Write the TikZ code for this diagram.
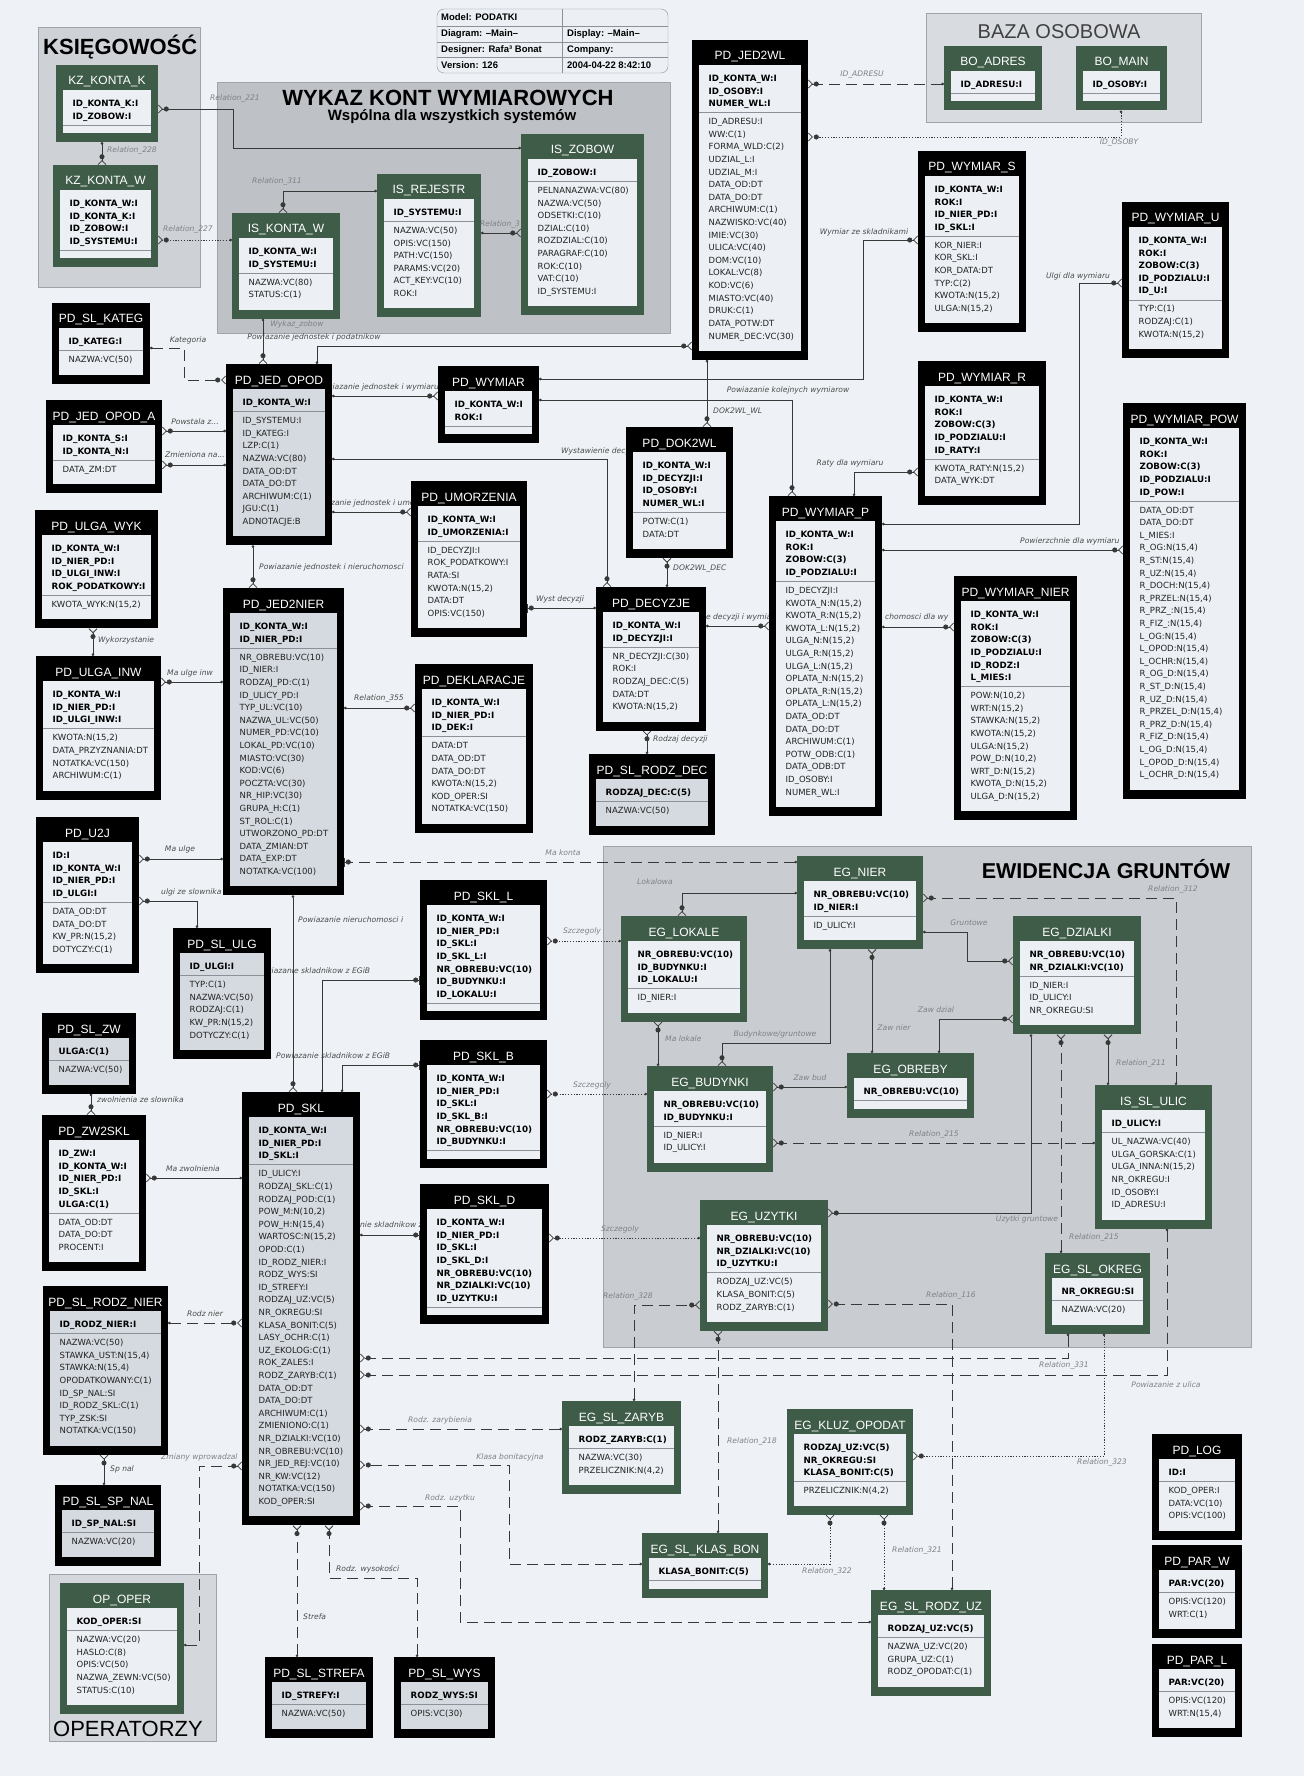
\documentclass[tikz,border=0pt]{standalone}
\usepackage{fontspec}
\setmainfont{Liberation Sans}
\newfontfamily\fieldfont{DejaVu Sans}
\usetikzlibrary{arrows.meta}

\definecolor{pagebg}{HTML}{EEF2F6}
\definecolor{tabin}{HTML}{ECF0F4}
\definecolor{tabhatch}{HTML}{D5DAE0}
\definecolor{egreen}{HTML}{3F5C49}
\definecolor{relcol}{HTML}{383838}
\definecolor{lblcol}{HTML}{4A4A4A}
\definecolor{lblpale}{HTML}{7E8286}
\definecolor{sepcol}{HTML}{8C9197}
\definecolor{attcol}{HTML}{222222}
\definecolor{grpedge}{HTML}{A0A4A8}
\definecolor{grpk}{HTML}{CED2D6}
\definecolor{grpw}{HTML}{BEC2C6}
\definecolor{grpb}{HTML}{D8DCE0}
\definecolor{grpe}{HTML}{C9CDD1}
\definecolor{grpo}{HTML}{D4D8DC}

\pgfdeclarelayer{back}
\pgfdeclarelayer{mid}
\pgfsetlayers{back,mid,main}

\tikzset{
  framecol/.store in=\framecol,
  innercol/.store in=\innercol,
  blk/.style={framecol=black, innercol=tabin},
  blkh/.style={framecol=black, innercol=tabhatch},
  grn/.style={framecol=egreen, innercol=tabin},
  tabframe/.style={draw=none, inner sep=0pt, outer sep=0pt, anchor=north west},
  tabhead/.style={anchor=base, inner sep=0pt, text=white, font=\fontsize{12}{14}\selectfont},
  pkfield/.style={anchor=base west, inner sep=0pt, text=black, font=\fieldfont\bfseries\fontsize{8.7}{10}\selectfont},
  atfield/.style={anchor=base west, inner sep=0pt, text=attcol, font=\fieldfont\fontsize{8.5}{10}\selectfont},
  tabsep/.style={draw=sepcol, line width=0.6pt},
  rel/.style={draw=relcol, line width=0.8pt, {Circle[length=2.6pt]}-{Circle[length=5pt,sep=0.8pt]Straight Barb[reversed,length=4pt,width=8pt]}},
  relbar/.style={rel, {Circle[length=2.6pt]}-{Circle[length=5pt,sep=1pt]Bar[width=9pt]}},
  reldash/.style={dash pattern=on 11pt off 6pt},
  reldot/.style={dash pattern=on 1.2pt off 1.6pt},
  lbl/.style={inner sep=1pt, text=lblcol, font=\fieldfont\itshape\fontsize{7.6}{9}\selectfont},
  lblp/.style={lbl, text=lblpale},
  grp/.style={draw=grpedge, line width=0.6pt, inner sep=0pt, outer sep=0pt, anchor=north west},
  bigtitle/.style={inner sep=0pt, text=black, font=\bfseries\fontsize{22}{24}\selectfont},
  infobox/.style={draw=sepcol, fill=tabin, rounded corners=7pt, inner sep=0pt, outer sep=0pt, anchor=north west},
  infotxt/.style={anchor=west, inner sep=0pt, font=\bfseries\fontsize{9.5}{11}\selectfont},
}

% one table: [colours]{name}{x}{y}{width}{title}{key fields}{other fields}
\newcommand{\ertab}[8][blk]{%
  \tikzset{#1}%
  \xdef\npk{0}%
  \foreach \fld [count=\i] in {#7} {\xdef\npk{\i}}%
  \xdef\nat{0}%
  \if\relax\detokenize{#8}\relax\else\foreach \fld [count=\i] in {#8} {\xdef\nat{\i}}\fi
  \pgfmathsetlengthmacro\tabh{(\nat>0 ? 80.5+12.6*(\npk+\nat-2) : 64.5+12.6*(\npk-1))*1pt}%
  \pgfmathsetlengthmacro\seppos{(38.5+12.6*(\npk-1)+9)*1pt}%
  \node[tabframe, fill=\framecol, minimum width=#5pt, minimum height=\tabh] (#2) at (#3,#4) {};
  \fill[\innercol] ([xshift=7pt,yshift=-25pt]#2.north west) rectangle ([xshift=-7pt,yshift=9pt]#2.south east);
  \node[tabhead] (#2h) at ([yshift=-20pt]#2.north) {#6};
  \foreach \fld [count=\i] in {#7} {\node[pkfield] (#2p\i) at ([xshift=16.5pt,yshift={-41.6pt-12.6pt*(\i-1)}]#2.north west) {\fld};}
  \draw[tabsep] ([xshift=7pt,yshift=-\seppos]#2.north west) -- ([xshift=-7pt,yshift=-\seppos]#2.north east);
  \ifnum\nat>0
    \foreach \fld [count=\i] in {#8} {\node[atfield] (#2a\i) at ([xshift=16.5pt,yshift={-\seppos-12.1pt-12.6pt*(\i-1)}]#2.north west) {\fld};}
  \fi
}

\begin{document}
\catcode`\_=12
\begin{tikzpicture}[x=1pt, y=-1pt]
  \useasboundingbox (0,0) rectangle (1304,1776);

  % the areas
  \begin{pgfonlayer}{back}
  \fill[pagebg] (0,0) rectangle (1304,1776);
  \node[grp, fill=grpk, minimum width=162pt, minimum height=260pt] (gksieg) at (38,27) {};
  \node[bigtitle, anchor=west] (tksieg) at (43,47) {KSIĘGOWOŚĆ};
  \node[grp, fill=grpw, minimum width=453pt, minimum height=251pt] (gwykaz) at (217,82) {};
  \node[bigtitle] (twykaz) at (448,98) {WYKAZ KONT WYMIAROWYCH};
  \node[bigtitle, font=\bfseries\fontsize{15}{17}\selectfont] (twspol) at (452,117) {Wspólna dla wszystkich systemów};
  \node[grp, fill=grpb, minimum width=275pt, minimum height=109pt] (gbaza) at (926,13) {};
  \node[bigtitle, text=black!75, font=\fontsize{20}{22}\selectfont] (tbaza) at (1059,32) {BAZA OSOBOWA};
  \node[grp, fill=grpe, minimum width=648pt, minimum height=501pt] (gewid) at (603,846) {};
  \node[bigtitle, font=\bfseries\fontsize{21.5}{24}\selectfont] (tewid) at (1106,869) {EWIDENCJA GRUNTÓW};
  \node[grp, fill=grpo, minimum width=167pt, minimum height=167pt] (goper) at (49,1574) {};
  \node[bigtitle, anchor=west, font=\fontsize{22}{24}\selectfont] (toper) at (53,1729) {OPERATORZY};
  \end{pgfonlayer}

  % the model header
  \node[infobox, minimum width=231pt, minimum height=64pt] (info) at (437,9) {};
  \draw[sepcol, line width=0.6pt] (info.west |- 0,26) -- (info.east |- 0,26);
  \draw[sepcol, line width=0.6pt] (info.west |- 0,42) -- (info.east |- 0,42);
  \draw[sepcol, line width=0.6pt] (info.west |- 0,57) -- (info.east |- 0,57);
  \draw[sepcol, line width=0.6pt] (info.north -| 562,0) -- (info.south -| 562,0);
  \node[infotxt] (im1) at (441,17) {Model: PODATKI};
  \node[infotxt] (im2) at (441,34) {Diagram: --Main--};
  \node[infotxt] (im3) at (567,34) {Display: --Main--};
  \node[infotxt] (im4) at (441,50) {Designer: Rafa³ Bonat};
  \node[infotxt] (im5) at (567,50) {Company:};
  \node[infotxt] (im6) at (441,65) {Version: 126};
  \node[infotxt] (im7) at (567,65) {2004-04-22  8:42:10};

  % the tables
  \ertab[grn]{kzk}{56}{65}{102}{KZ_KONTA_K}{ID_KONTA_K:I,ID_ZOBOW:I}{}
  \ertab[grn]{kzw}{53}{165}{105}{KZ_KONTA_W}{ID_KONTA_W:I,ID_KONTA_K:I,ID_ZOBOW:I,ID_SYSTEMU:I}{}
  \ertab[grn]{iskontaw}{232}{213}{108}{IS_KONTA_W}{ID_KONTA_W:I,ID_SYSTEMU:I}{NAZWA:VC(80),STATUS:C(1)}
  \ertab[grn]{isrejestr}{377}{174}{104}{IS_REJESTR}{ID_SYSTEMU:I}{NAZWA:VC(50),OPIS:VC(150),PATH:VC(150),PARAMS:VC(20),ACT_KEY:VC(10),ROK:I}
  \ertab[grn]{iszobow}{521}{134}{123}{IS_ZOBOW}{ID_ZOBOW:I}{PELNANAZWA:VC(80),NAZWA:VC(50),ODSETKI:C(10),DZIAL:C(10),ROZDZIAL:C(10),PARAGRAF:C(10),ROK:C(10),VAT:C(10),ID_SYSTEMU:I}
  \ertab[grn]{boadres}{944}{46}{98}{BO_ADRES}{ID_ADRESU:I}{}
  \ertab[grn]{bomain}{1076}{46}{91}{BO_MAIN}{ID_OSOBY:I}{}
  \ertab{jed2wl}{692}{40}{116}{PD_JED2WL}{ID_KONTA_W:I,ID_OSOBY:I,NUMER_WL:I}{ID_ADRESU:I,WW:C(1),FORMA_WLD:C(2),UDZIAL_L:I,UDZIAL_M:I,DATA_OD:DT,DATA_DO:DT,ARCHIWUM:C(1),NAZWISKO:VC(40),IMIE:VC(30),ULICA:VC(40),DOM:VC(10),LOKAL:VC(8),KOD:VC(6),MIASTO:VC(40),DRUK:C(1),DATA_POTW:DT,NUMER_DEC:VC(30)}
  \ertab{wymiars}{918}{151}{108}{PD_WYMIAR_S}{ID_KONTA_W:I,ROK:I,ID_NIER_PD:I,ID_SKL:I}{KOR_NIER:I,KOR_SKL:I,KOR_DATA:DT,TYP:C(2),{KWOTA:N(15,2)},{ULGA:N(15,2)}}
  \ertab{wymiaru}{1122}{202}{107}{PD_WYMIAR_U}{ID_KONTA_W:I,ROK:I,ZOBOW:C(3),ID_PODZIALU:I,ID_U:I}{TYP:C(1),RODZAJ:C(1),{KWOTA:N(15,2)}}
  \ertab{wymiarr}{918}{361}{128}{PD_WYMIAR_R}{ID_KONTA_W:I,ROK:I,ZOBOW:C(3),ID_PODZIALU:I,ID_RATY:I}{{KWOTA_RATY:N(15,2)},DATA_WYK:DT}
  \ertab{wymiarpow}{1123}{403}{123}{PD_WYMIAR_POW}{ID_KONTA_W:I,ROK:I,ZOBOW:C(3),ID_PODZIALU:I,ID_POW:I}{DATA_OD:DT,DATA_DO:DT,L_MIES:I,{R_OG:N(15,4)},{R_ST:N(15,4)},{R_UZ:N(15,4)},{R_DOCH:N(15,4)},{R_PRZEL:N(15,4)},{R_PRZ_:N(15,4)},{R_FIZ_:N(15,4)},{L_OG:N(15,4)},{L_OPOD:N(15,4)},{L_OCHR:N(15,4)},{R_OG_D:N(15,4)},{R_ST_D:N(15,4)},{R_UZ_D:N(15,4)},{R_PRZEL_D:N(15,4)},{R_PRZ_D:N(15,4)},{R_FIZ_D:N(15,4)},{L_OG_D:N(15,4)},{L_OPOD_D:N(15,4)},{L_OCHR_D:N(15,4)}}
  \ertab{wymiarnier}{954}{576}{123}{PD_WYMIAR_NIER}{ID_KONTA_W:I,ROK:I,ZOBOW:C(3),ID_PODZIALU:I,ID_RODZ:I,L_MIES:I}{{POW:N(10,2)},{WRT:N(15,2)},{STAWKA:N(15,2)},{KWOTA:N(15,2)},{ULGA:N(15,2)},{POW_D:N(10,2)},{WRT_D:N(15,2)},{KWOTA_D:N(15,2)},{ULGA_D:N(15,2)}}
  \ertab{wymiarp}{769}{496}{113}{PD_WYMIAR_P}{ID_KONTA_W:I,ROK:I,ZOBOW:C(3),ID_PODZIALU:I}{ID_DECYZJI:I,{KWOTA_N:N(15,2)},{KWOTA_R:N(15,2)},{KWOTA_L:N(15,2)},{ULGA_N:N(15,2)},{ULGA_R:N(15,2)},{ULGA_L:N(15,2)},{OPLATA_N:N(15,2)},{OPLATA_R:N(15,2)},{OPLATA_L:N(15,2)},DATA_OD:DT,DATA_DO:DT,ARCHIWUM:C(1),POTW_ODB:C(1),DATA_ODB:DT,ID_OSOBY:I,NUMER_WL:I}
  \ertab{dok2wl}{626}{427}{107}{PD_DOK2WL}{ID_KONTA_W:I,ID_DECYZJI:I,ID_OSOBY:I,NUMER_WL:I}{POTW:C(1),DATA:DT}
  \ertab{decyzje}{596}{587}{110}{PD_DECYZJE}{ID_KONTA_W:I,ID_DECYZJI:I}{NR_DECYZJI:C(30),ROK:I,RODZAJ_DEC:C(5),DATA:DT,{KWOTA:N(15,2)}}
  \ertab[blkh]{slrodzdec}{589}{754}{126}{PD_SL_RODZ_DEC}{RODZAJ_DEC:C(5)}{NAZWA:VC(50)}
  \ertab{umorzenia}{411}{481}{116}{PD_UMORZENIA}{ID_KONTA_W:I,ID_UMORZENIA:I}{ID_DECYZJI:I,ROK_PODATKOWY:I,RATA:SI,{KWOTA:N(15,2)},DATA:DT,OPIS:VC(150)}
  \ertab{deklaracje}{415}{664}{118}{PD_DEKLARACJE}{ID_KONTA_W:I,ID_NIER_PD:I,ID_DEK:I}{DATA:DT,DATA_OD:DT,DATA_DO:DT,{KWOTA:N(15,2)},KOD_OPER:SI,NOTATKA:VC(150)}
  \ertab{wymiar}{438}{366}{101}{PD_WYMIAR}{ID_KONTA_W:I,ROK:I}{}
  \ertab[blkh]{jedopod}{226}{364}{106}{PD_JED_OPOD}{ID_KONTA_W:I}{ID_SYSTEMU:I,ID_KATEG:I,LZP:C(1),NAZWA:VC(80),DATA_OD:DT,DATA_DO:DT,ARCHIWUM:C(1),JGU:C(1),ADNOTACJE:B}
  \ertab{jedopoda}{46}{400}{116}{PD_JED_OPOD_A}{ID_KONTA_S:I,ID_KONTA_N:I}{DATA_ZM:DT}
  \ertab{slkateg}{52}{303}{98}{PD_SL_KATEG}{ID_KATEG:I}{NAZWA:VC(50)}
  \ertab{ulgawyk}{35}{510}{123}{PD_ULGA_WYK}{ID_KONTA_W:I,ID_NIER_PD:I,ID_ULGI_INW:I,ROK_PODATKOWY:I}{{KWOTA_WYK:N(15,2)}}
  \ertab{ulgainw}{36}{656}{125}{PD_ULGA_INW}{ID_KONTA_W:I,ID_NIER_PD:I,ID_ULGI_INW:I}{{KWOTA:N(15,2)},DATA_PRZYZNANIA:DT,NOTATKA:VC(150),ARCHIWUM:C(1)}
  \ertab[blkh]{jed2nier}{223}{588}{121}{PD_JED2NIER}{ID_KONTA_W:I,ID_NIER_PD:I}{NR_OBREBU:VC(10),ID_NIER:I,RODZAJ_PD:C(1),ID_ULICY_PD:I,TYP_UL:VC(10),NAZWA_UL:VC(50),NUMER_PD:VC(10),LOKAL_PD:VC(10),MIASTO:VC(30),KOD:VC(6),POCZTA:VC(30),NR_HIP:VC(30),GRUPA_H:C(1),ST_ROL:C(1),UTWORZONO_PD:DT,DATA_ZMIAN:DT,DATA_EXP:DT,NOTATKA:VC(100)}
  \ertab{u2j}{36}{817}{103}{PD_U2J}{ID:I,ID_KONTA_W:I,ID_NIER_PD:I,ID_ULGI:I}{DATA_OD:DT,DATA_DO:DT,{KW_PR:N(15,2)},DOTYCZY:C(1)}
  \ertab[blkh]{slulg}{173}{928}{98}{PD_SL_ULG}{ID_ULGI:I}{TYP:C(1),NAZWA:VC(50),RODZAJ:C(1),{KW_PR:N(15,2)},DOTYCZY:C(1)}
  \ertab[blkh]{slzw}{42}{1013}{94}{PD_SL_ZW}{ULGA:C(1)}{NAZWA:VC(50)}
  \ertab{zw2skl}{42}{1115}{104}{PD_ZW2SKL}{ID_ZW:I,ID_KONTA_W:I,ID_NIER_PD:I,ID_SKL:I,ULGA:C(1)}{DATA_OD:DT,DATA_DO:DT,PROCENT:I}
  \ertab[blkh]{skl}{242}{1092}{118}{PD_SKL}{ID_KONTA_W:I,ID_NIER_PD:I,ID_SKL:I}{ID_ULICY:I,RODZAJ_SKL:C(1),RODZAJ_POD:C(1),{POW_M:N(10,2)},{POW_H:N(15,4)},{WARTOSC:N(15,2)},OPOD:C(1),ID_RODZ_NIER:I,RODZ_WYS:SI,ID_STREFY:I,RODZAJ_UZ:VC(5),NR_OKREGU:SI,KLASA_BONIT:C(5),LASY_OCHR:C(1),UZ_EKOLOG:C(1),ROK_ZALES:I,RODZ_ZARYB:C(1),DATA_OD:DT,DATA_DO:DT,ARCHIWUM:C(1),ZMIENIONO:C(1),NR_DZIALKI:VC(10),NR_OBREBU:VC(10),NR_JED_REJ:VC(10),NR_KW:VC(12),NOTATKA:VC(150),KOD_OPER:SI}
  \ertab[blkh]{slrodznier}{43}{1286}{125}{PD_SL_RODZ_NIER}{ID_RODZ_NIER:I}{NAZWA:VC(50),{STAWKA_UST:N(15,4)},{STAWKA:N(15,4)},OPODATKOWANY:C(1),ID_SP_NAL:SI,ID_RODZ_SKL:C(1),TYP_ZSK:SI,NOTATKA:VC(150)}
  \ertab[blkh]{slspnal}{55}{1485}{106}{PD_SL_SP_NAL}{ID_SP_NAL:SI}{NAZWA:VC(20)}
  \ertab[grn]{opoper}{60}{1583}{124}{OP_OPER}{KOD_OPER:SI}{NAZWA:VC(20),HASLO:C(8),OPIS:VC(50),NAZWA_ZEWN:VC(50),STATUS:C(10)}
  \ertab[blkh]{slstrefa}{265}{1657}{108}{PD_SL_STREFA}{ID_STREFY:I}{NAZWA:VC(50)}
  \ertab[blkh]{slwys}{394}{1657}{101}{PD_SL_WYS}{RODZ_WYS:SI}{OPIS:VC(30)}
  \ertab{skll}{420}{880}{127}{PD_SKL_L}{ID_KONTA_W:I,ID_NIER_PD:I,ID_SKL:I,ID_SKL_L:I,NR_OBREBU:VC(10),ID_BUDYNKU:I,ID_LOKALU:I}{}
  \ertab{sklb}{420}{1040}{127}{PD_SKL_B}{ID_KONTA_W:I,ID_NIER_PD:I,ID_SKL:I,ID_SKL_B:I,NR_OBREBU:VC(10),ID_BUDYNKU:I}{}
  \ertab{skld}{420}{1184}{129}{PD_SKL_D}{ID_KONTA_W:I,ID_NIER_PD:I,ID_SKL:I,ID_SKL_D:I,NR_OBREBU:VC(10),NR_DZIALKI:VC(10),ID_UZYTKU:I}{}
  \ertab[grn]{egnier}{797}{856}{126}{EG_NIER}{NR_OBREBU:VC(10),ID_NIER:I}{ID_ULICY:I}
  \ertab[grn]{eglokale}{621}{916}{126}{EG_LOKALE}{NR_OBREBU:VC(10),ID_BUDYNKU:I,ID_LOKALU:I}{ID_NIER:I}
  \ertab[grn]{egdzialki}{1013}{916}{128}{EG_DZIALKI}{NR_OBREBU:VC(10),NR_DZIALKI:VC(10)}{ID_NIER:I,ID_ULICY:I,NR_OKREGU:SI}
  \ertab[grn]{egbudynki}{647}{1066}{126}{EG_BUDYNKI}{NR_OBREBU:VC(10),ID_BUDYNKU:I}{ID_NIER:I,ID_ULICY:I}
  \ertab[grn]{egobreby}{847}{1053}{127}{EG_OBREBY}{NR_OBREBU:VC(10)}{}
  \ertab[grn]{isslulic}{1095}{1085}{117}{IS_SL_ULIC}{ID_ULICY:I}{UL_NAZWA:VC(40),ULGA_GORSKA:C(1),{ULGA_INNA:N(15,2)},NR_OKREGU:I,ID_OSOBY:I,ID_ADRESU:I}
  \ertab[grn]{eguzytki}{700}{1200}{128}{EG_UZYTKI}{NR_OBREBU:VC(10),NR_DZIALKI:VC(10),ID_UZYTKU:I}{RODZAJ_UZ:VC(5),KLASA_BONIT:C(5),RODZ_ZARYB:C(1)}
  \ertab[grn]{egslokreg}{1045}{1253}{105}{EG_SL_OKREG}{NR_OKREGU:SI}{NAZWA:VC(20)}
  \ertab[grn]{egslzaryb}{562}{1401}{119}{EG_SL_ZARYB}{RODZ_ZARYB:C(1)}{NAZWA:VC(30),{PRZELICZNIK:N(4,2)}}
  \ertab[grn]{egkluz}{787}{1409}{126}{EG_KLUZ_OPODAT}{RODZAJ_UZ:VC(5),NR_OKREGU:SI,KLASA_BONIT:C(5)}{{PRZELICZNIK:N(4,2)}}
  \ertab[grn]{egslklasbon}{642}{1533}{126}{EG_SL_KLAS_BON}{KLASA_BONIT:C(5)}{}
  \ertab[grn]{egslrodzuz}{871}{1590}{120}{EG_SL_RODZ_UZ}{RODZAJ_UZ:VC(5)}{NAZWA_UZ:VC(20),GRUPA_UZ:C(1),RODZ_OPODAT:C(1)}
  \ertab{pdlog}{1152}{1434}{90}{PD_LOG}{ID:I}{KOD_OPER:I,DATA:VC(10),OPIS:VC(100)}
  \ertab{pdparw}{1152}{1545}{90}{PD_PAR_W}{PAR:VC(20)}{OPIS:VC(120),WRT:C(1)}
  \ertab{pdparl}{1152}{1644}{90}{PD_PAR_L}{PAR:VC(20)}{OPIS:VC(120),{WRT:N(15,4)}}

  % the relations (from the parent table to the child table), under the tables
  \begin{pgfonlayer}{mid}
  \draw[rel] (iszobow.west |- 0,148) -- (233,148) -- (233,109) -- (kzk.east |- 0,109);
  \draw[rel] (kzk.south -| 102,0) -- (kzw.north -| 102,0);
  \draw[rel, reldot] (iskontaw.west |- 0,240) -- (kzw.east |- 0,240);
  \draw[rel] (isrejestr.west |- 0,191) -- (283,191) -- (iskontaw.north -| 283,0);
  \draw[rel] (isrejestr.east |- 0,233) -- (iszobow.west |- 0,233);
  \draw[rel] (iskontaw.south -| 263,0) -- (jedopod.north -| 263,0);
  \draw[rel, reldash] (slkateg.east |- 0,348) -- (184,348) -- (184,380) -- (jedopod.west |- 0,380);
  \draw[rel] (jedopod.north -| 317,0) -- (317,346) -- (jed2wl.west |- 0,346);
  \draw[rel] (jedopod.west |- 0,431) -- (jedopoda.east |- 0,431);
  \draw[rel] (jedopod.west |- 0,465) -- (jedopoda.east |- 0,465);
  \draw[rel] (jedopod.east |- 0,396) -- (wymiar.west |- 0,396);
  \draw[rel] (jedopod.east |- 0,459) -- (607,459) -- (decyzje.north -| 607,0);
  \draw[rel] (jedopod.east |- 0,512) -- (umorzenia.west |- 0,512);
  \draw[rel] (jedopod.south -| 253,0) -- (jed2nier.north -| 253,0);
  \draw[rel] (jed2wl.south -| 707,0) -- (dok2wl.north -| 707,0);
  \draw[rel] (wymiar.east |- 0,400) -- (792,400) -- (wymiarp.north -| 792,0);
  \draw[rel] (wymiar.east |- 0,379) -- (863,379) -- (863,240) -- (wymiars.west |- 0,240);
  \draw[rel, reldash] (boadres.west |- 0,84) -- (jed2wl.east |- 0,84);
  \draw[rel, reldot] (bomain.south -| 1121,0) -- (1121,137) -- (jed2wl.east |- 0,137);
  \draw[rel] (wymiarp.east |- 0,524) -- (1079,524) -- (1079,283) -- (wymiaru.west |- 0,283);
  \draw[rel] (wymiarp.north -| 854,0) -- (854,472) -- (wymiarr.west |- 0,472);
  \draw[rel] (wymiarp.east |- 0,550) -- (wymiarpow.west |- 0,550);
  \draw[rel] (wymiarp.east |- 0,627) -- (wymiarnier.west |- 0,627);
  \draw[rel] (decyzje.east |- 0,626) -- (wymiarp.west |- 0,626);
  \draw[rel] (decyzje.north -| 667,0) -- (dok2wl.south -| 667,0);
  \draw[relbar] (decyzje.west |- 0,608) -- (umorzenia.east |- 0,608);
  \draw[rel] (slrodzdec.north -| 647,0) -- (decyzje.south -| 647,0);
  \draw[rel] (jed2nier.east |- 0,708) -- (deklaracje.west |- 0,708);
  \draw[rel] (ulgainw.north -| 93,0) -- (ulgawyk.south -| 93,0);
  \draw[rel] (jed2nier.west |- 0,682) -- (ulgainw.east |- 0,682);
  \draw[rel] (jed2nier.west |- 0,859) -- (u2j.east |- 0,859);
  \draw[relbar, reldash] (egnier.west |- 0,862) -- (jed2nier.east |- 0,862);
  \draw[rel] (slulg.north -| 197,0) -- (197,901) -- (u2j.east |- 0,901);
  \draw[rel] (jed2nier.south -| 293,0) -- (skl.north -| 293,0);
  \draw[relbar] (skl.north -| 322,0) -- (322,980) -- (skll.west |- 0,980);
  \draw[relbar] (skl.north -| 342,0) -- (342,1065) -- (sklb.west |- 0,1065);
  \draw[relbar] (skl.east |- 0,1235) -- (skld.west |- 0,1235);
  \draw[rel] (slzw.south -| 91,0) -- (zw2skl.north -| 91,0);
  \draw[rel] (skl.west |- 0,1178) -- (zw2skl.east |- 0,1178);
  \draw[rel, reldash] (slrodznier.east |- 0,1323) -- (skl.west |- 0,1323);
  \draw[rel] (slspnal.north -| 104,0) -- (slrodznier.south -| 104,0);
  \draw[rel, reldash] (opoper.east |- 0,1645) -- (199,1645) -- (199,1466) -- (skl.west |- 0,1466);
  \draw[rel, reldash] (slstrefa.north -| 297,0) -- (skl.south -| 297,0);
  \draw[rel, reldash] (slwys.north -| 417,0) -- (417,1578) -- (329,1578) -- (skl.south -| 329,0);
  \draw[rel, reldash] (egslokreg.south -| 1068,0) -- (1068,1358) -- (skl.east |- 0,1358);
  \draw[rel, reldash] (isslulic.south -| 1167,0) -- (1167,1375) -- (skl.east |- 0,1375);
  \draw[rel, reldash] (egslzaryb.west |- 0,1429) -- (skl.east |- 0,1429);
  \draw[rel, reldash] (egslklasbon.west |- 0,1564) -- (509,1564) -- (509,1465) -- (skl.east |- 0,1465);
  \draw[rel, reldash] (egslrodzuz.west |- 0,1622) -- (460,1622) -- (460,1506) -- (skl.east |- 0,1506);
  \draw[rel, reldot] (egslklasbon.east |- 0,1564) -- (830,1564) -- (egkluz.south -| 830,0);
  \draw[rel, reldot] (egslrodzuz.north -| 884,0) -- (egkluz.south -| 884,0);
  \draw[rel, reldot] (egslokreg.south -| 1104,0) -- (1104,1456) -- (egkluz.east |- 0,1456);
  \draw[rel, reldash] (egslklasbon.north -| 718,0) -- (eguzytki.south -| 718,0);
  \draw[rel, reldash] (egslzaryb.north -| 634,0) -- (634,1305) -- (eguzytki.west |- 0,1305);
  \draw[rel, reldash] (egslrodzuz.north -| 952,0) -- (952,1304) -- (eguzytki.east |- 0,1304);
  \draw[rel] (egdzialki.south -| 1031,0) -- (1031,1213) -- (eguzytki.east |- 0,1213);
  \draw[rel, reldot] (eguzytki.west |- 0,1238) -- (skld.east |- 0,1238);
  \draw[rel, reldot] (egbudynki.west |- 0,1094) -- (sklb.east |- 0,1094);
  \draw[rel, reldot] (eglokale.west |- 0,941) -- (skll.east |- 0,941);
  \draw[rel] (egnier.west |- 0,893) -- (682,893) -- (eglokale.north -| 682,0);
  \draw[rel] (egbudynki.north -| 658,0) -- (eglokale.south -| 658,0);
  \draw[rel] (egnier.south -| 830,0) -- (830,1043) -- (722,1043) -- (egbudynki.north -| 722,0);
  \draw[rel] (egobreby.west |- 0,1087) -- (egbudynki.east |- 0,1087);
  \draw[rel] (egobreby.north -| 872,0) -- (egnier.south -| 872,0);
  \draw[rel] (egobreby.north -| 939,0) -- (939,1019) -- (egdzialki.west |- 0,1019);
  \draw[rel] (egnier.east |- 0,932) -- (967,932) -- (967,961) -- (egdzialki.west |- 0,961);
  \draw[rel, reldash] (isslulic.north -| 1176,0) -- (1176,898) -- (egnier.east |- 0,898);
  \draw[rel, reldash] (isslulic.west |- 0,1143) -- (egbudynki.east |- 0,1143);
  \draw[rel] (isslulic.north -| 1108,0) -- (egdzialki.south -| 1108,0);
  \draw[rel, reldash] (egslokreg.north -| 1061,0) -- (egdzialki.south -| 1061,0);

  % the relation names
  \node[lblp] (lb1) at (235,99) {Relation_221};
  \node[lblp, anchor=west] (lb2) at (106,151) {Relation_228};
  \node[lblp] (lb3) at (188,230) {Relation_227};
  \node[lblp] (lb4) at (277,182) {Relation_311};
  \node[lblp] (lb5) at (500,225) {Relation_3};
  \node[lblp] (lb6) at (297,325) {Wykaz_zobow};
  \node[lbl] (lb7) at (188,340) {Kategoria};
  \node[lbl] (lb8) at (314,337) {Powiazanie jednostek i podatnikow};
  \node[lbl] (lb9) at (195,422) {Powstala z...};
  \node[lbl] (lb10) at (195,455) {Zmieniona na...};
  \node[lbl] (lb11) at (378,387) {Powiazanie jednostek i wymiaru};
  \node[lbl, anchor=west] (lb12) at (560,451) {Wystawienie decyzji};
  \node[lbl] (lb13) at (370,503) {Powiazanie jednostek i umorzen};
  \node[lbl, anchor=west] (lb14) at (258,567) {Powiazanie jednostek i nieruchomosci};
  \node[lbl, anchor=west] (lb15) at (712,412) {DOK2WL_WL};
  \node[lbl] (lb16) at (788,390) {Powiazanie kolejnych wymiarow};
  \node[lbl] (lb17) at (864,232) {Wymiar ze skladnikami};
  \node[lblp] (lb18) at (862,75) {ID_ADRESU};
  \node[lblp] (lb19) at (1119,143) {ID_OSOBY};
  \node[lbl] (lb20) at (1078,276) {Ulgi dla wymiaru};
  \node[lbl] (lb21) at (850,463) {Raty dla wymiaru};
  \node[lbl, anchor=west] (lb22) at (1019,541) {Powierzchnie dla wymiaru};
  \node[lbl, anchor=west] (lb23) at (884,617) {chomosci dla wy};
  \node[lbl, anchor=west] (lb24) at (667,617) {Powiazanie decyzji i wymiaru};
  \node[lbl, anchor=west] (lb25) at (672,569) {DOK2WL_DEC};
  \node[lbl] (lb26) at (560,599) {Wyst decyzji};
  \node[lbl, anchor=west] (lb27) at (652,739) {Rodzaj decyzji};
  \node[lbl] (lb28) at (379,699) {Relation_355};
  \node[lbl, anchor=west] (lb29) at (97,640) {Wykorzystanie};
  \node[lbl] (lb30) at (190,673) {Ma ulge inw};
  \node[lbl] (lb31) at (180,849) {Ma ulge};
  \node[lblp] (lb32) at (563,853) {Ma konta};
  \node[lbl, anchor=west] (lb33) at (160,892) {ulgi ze slownika};
  \node[lbl, anchor=west] (lb34) at (297,920) {Powiazanie nieruchomosci i};
  \node[lbl, anchor=west] (lb35) at (255,971) {Powiazanie skladnikow z EGiB};
  \node[lbl, anchor=west] (lb36) at (275,1056) {Powiazanie skladnikow z EGiB};
  \node[lbl, anchor=west] (lb37) at (328,1225) {Powiazanie skladnikow z EGiB};
  \node[lbl, anchor=west] (lb38) at (96,1100) {zwolnienia ze slownika};
  \node[lbl] (lb39) at (193,1169) {Ma zwolnienia};
  \node[lbl] (lb40) at (205,1314) {Rodz nier};
  \node[lbl, anchor=west] (lb41) at (109,1469) {Sp nal};
  \node[lblp, anchor=west] (lb42) at (160,1457) {Zmiany wprowadzal};
  \node[lbl, anchor=west] (lb43) at (302,1617) {Strefa};
  \node[lbl, anchor=west] (lb44) at (335,1569) {Rodz. wysokości};
  \node[lblp] (lb45) at (1064,1365) {Relation_331};
  \node[lblp] (lb46) at (1166,1385) {Powiazanie z ulica};
  \node[lblp] (lb47) at (440,1420) {Rodz. zarybienia};
  \node[lblp] (lb48) at (510,1457) {Klasa bonitacyjna};
  \node[lblp] (lb49) at (450,1498) {Rodz. uzytku};
  \node[lblp] (lb50) at (827,1571) {Relation_322};
  \node[lblp] (lb51) at (917,1550) {Relation_321};
  \node[lblp] (lb52) at (1102,1462) {Relation_323};
  \node[lblp] (lb53) at (752,1441) {Relation_218};
  \node[lblp] (lb54) at (628,1296) {Relation_328};
  \node[lblp] (lb55) at (951,1295) {Relation_116};
  \node[lblp] (lb56) at (1027,1219) {Uzytki gruntowe};
  \node[lblp] (lb57) at (620,1229) {Szczegoly};
  \node[lblp] (lb58) at (592,1085) {Szczegoly};
  \node[lblp] (lb59) at (582,931) {Szczegoly};
  \node[lblp] (lb60) at (655,882) {Lokalowa};
  \node[lblp, anchor=west] (lb61) at (664,1039) {Ma lokale};
  \node[lblp] (lb62) at (775,1034) {Budynkowe/gruntowe};
  \node[lblp] (lb63) at (810,1078) {Zaw bud};
  \node[lblp] (lb64) at (894,1028) {Zaw nier};
  \node[lblp] (lb65) at (936,1010) {Zaw dzial};
  \node[lblp] (lb66) at (969,923) {Gruntowe};
  \node[lblp] (lb67) at (1173,889) {Relation_312};
  \node[lblp] (lb68) at (934,1134) {Relation_215};
  \node[lblp] (lb69) at (1141,1063) {Relation_211};
  \node[lblp] (lb70) at (1094,1237) {Relation_215};
  \end{pgfonlayer}
\end{tikzpicture}
\end{document}
